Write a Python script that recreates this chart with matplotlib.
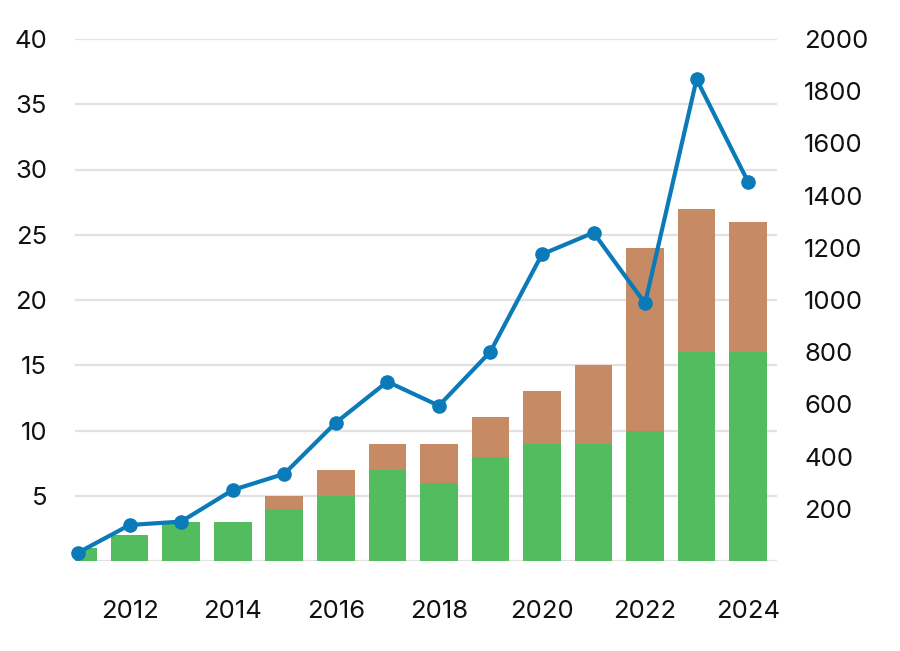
import matplotlib
matplotlib.use("Agg")
import matplotlib.pyplot as plt
import numpy as np

years = [2011, 2012, 2013, 2014, 2015, 2016, 2017, 2018, 2019, 2020, 2021, 2022, 2023, 2024]
green_vals = [1, 2, 3, 3, 4, 5, 7, 6, 8, 9, 9, 10, 16, 16]
brown_vals = [0, 0, 0, 0, 1, 2, 2, 3, 3, 4, 6, 14, 11, 10]
line_vals = [32, 138, 151, 272, 334, 530, 687, 595, 802, 1175, 1258, 987, 1846, 1452]
left_ticks = [5, 10, 15, 20, 25, 30, 35, 40]
right_ticks = [200, 400, 600, 800, 1000, 1200, 1400, 1600, 1800, 2000]
x_ticks = [2012, 2014, 2016, 2018, 2020, 2022, 2024]

GREEN = "#52bc5e"
BROWN = "#c68a65"
BLUE = "#0a7ab8"
GRID = "#e2e2e2"
TXT = "#111111"

plt.rcParams['font.family'] = ['Inter', 'DejaVu Sans']

fig = plt.figure(figsize=(9, 6.51), dpi=100)
ax = fig.add_axes([75/900, 1 - 561/651, (777-75)/900, (561-39)/651])
ax2 = ax.twinx()

w = 0.73
ax.bar(years, green_vals, width=w, color=GREEN, zorder=2)
ax.bar(years, brown_vals, width=w, bottom=green_vals, color=BROWN, zorder=2)

ax.set_ylim(0, 40)
ax.set_xlim(2010.94, 2024.56)
ax.set_yticks(left_ticks)
ax.yaxis.grid(True, color=GRID, linewidth=1.6, zorder=0)
ax.axhline(0, color=GRID, linewidth=1.6, zorder=1)
ax.set_axisbelow(True)
ax.set_xticks(x_ticks)
ax.set_xticklabels([str(x) for x in x_ticks])

ax2.plot(years, line_vals, color=BLUE, linewidth=3.0, marker='o', markersize=9.5, zorder=3, clip_on=False)
ax2.set_ylim(0, 2000)
ax2.set_yticks(right_ticks)

for a in (ax, ax2):
    for s in a.spines.values():
        s.set_visible(False)
    a.tick_params(length=0, labelsize=18.5, colors=TXT)
ax.tick_params(axis='y', pad=20)
ax.tick_params(axis='x', pad=28)
ax2.tick_params(axis='y', pad=19.5)

fig.savefig("out.png", dpi=100)
